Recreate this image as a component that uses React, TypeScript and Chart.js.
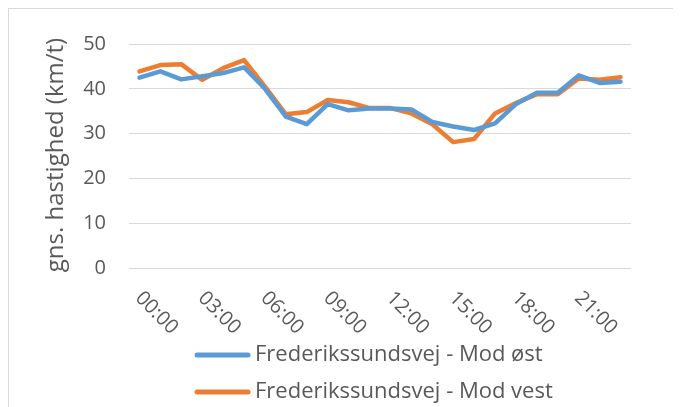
import React, { useEffect, useRef } from "react";
import { Chart, registerables } from "chart.js";

Chart.register(...registerables);

const hours = [
  "00:00", "01:00", "02:00", "03:00", "04:00", "05:00", "06:00", "07:00",
  "08:00", "09:00", "10:00", "11:00", "12:00", "13:00", "14:00", "15:00",
  "16:00", "17:00", "18:00", "19:00", "20:00", "21:00", "22:00", "23:00",
];
const eastSpeeds = [42.5, 43.9, 42.1, 42.8, 43.5, 44.8, 40.0, 33.8, 32.1, 36.6, 35.2, 35.6, 35.6, 35.4, 32.6, 31.6, 30.8, 32.3, 36.6, 39.1, 39.1, 43.0, 41.3, 41.6];
const westSpeeds = [43.9, 45.3, 45.5, 42.0, 44.6, 46.4, 40.5, 34.3, 34.8, 37.5, 37.0, 35.7, 35.7, 34.5, 32.1, 28.1, 28.8, 34.5, 36.8, 38.8, 38.8, 42.3, 42.0, 42.6];
const seriesNames = ["Frederikssundsvej - Mod øst", "Frederikssundsvej - Mod vest"];
const seriesColors = ["#5B9BD5", "#ED7D31"];
const yTitle = "gns. hastighed (km/t)";
const yMin = 0;
const yMax = 50;
const yStep = 10;
const labelEvery = 3;

const TEXT = "#595959";
const FONT = '"Open Sans", sans-serif';
const TICK_SIZE = 20;
const LEGEND_SIZE = 22;
const TITLE_SIZE = 24;

const overlay = {
  id: "overlay",
  afterDraw(chart: any) {
    const { ctx, chartArea } = chart;
    const xs = chart.scales.x;
    ctx.save();
    ctx.fillStyle = TEXT;
    ctx.font = `${TICK_SIZE}px ${FONT}`;
    ctx.textBaseline = "middle";
    ctx.textAlign = "left";
    hours.forEach((h, i) => {
      if (i % labelEvery !== 0) return;
      const px = xs.getPixelForTick(i);
      ctx.save();
      ctx.translate(px - 1, chartArea.bottom + 27);
      ctx.rotate(Math.PI / 4);
      ctx.fillText(h, 0, 0);
      ctx.restore();
    });
    // y axis title
    ctx.font = `${TITLE_SIZE}px ${FONT}`;
    ctx.save();
    ctx.translate(47, 146);
    ctx.rotate(-Math.PI / 2);
    ctx.textAlign = "center";
    ctx.fillText(yTitle, 0, 0);
    ctx.restore();
    // legend
    ctx.font = `${LEGEND_SIZE}px ${FONT}`;
    chart.data.datasets.forEach((ds: any, i: number) => {
      const y = chartArea.bottom + 87 + i * 37;
      ctx.strokeStyle = ds.borderColor;
      ctx.lineWidth = 5;
      ctx.lineCap = "round";
      ctx.beginPath();
      ctx.moveTo(188, y);
      ctx.lineTo(239, y);
      ctx.stroke();
      ctx.fillStyle = TEXT;
      ctx.textAlign = "left";
      ctx.fillText(ds.label, 246, y);
    });
    ctx.restore();
  },
};

export default function App() {
  const ref = useRef<HTMLCanvasElement | null>(null);
  useEffect(() => {
    document.body.style.overflow = "hidden";
    document.documentElement.style.overflow = "hidden";
    const canvas = ref.current;
    if (!canvas) return;
    const chart = new Chart(canvas, {
      type: "line",
      data: {
        labels: hours,
        datasets: [
          {
            label: seriesNames[0],
            data: eastSpeeds,
            borderColor: seriesColors[0],
            backgroundColor: seriesColors[0],
            borderWidth: 4.5,
            pointRadius: 0,
            tension: 0,
            borderJoinStyle: "round",
            borderCapStyle: "round",
          },
          {
            label: seriesNames[1],
            data: westSpeeds,
            borderColor: seriesColors[1],
            backgroundColor: seriesColors[1],
            borderWidth: 4.5,
            pointRadius: 0,
            tension: 0,
            borderJoinStyle: "round",
            borderCapStyle: "round",
          },
        ],
      },
      options: {
        responsive: false,
        animation: false,
        layout: { padding: { left: 0, right: 50, top: 24, bottom: 0 } },
        plugins: {
          legend: { display: false },
          tooltip: { enabled: false },
        },
        scales: {
          x: {
            offset: true,
            grid: { display: false },
            border: { display: false },
            ticks: { display: false },
            afterFit: (scale: any) => {
              scale.height = 139;
            },
          },
          y: {
            min: yMin,
            max: yMax,
            grid: { color: "#D9D9D9", lineWidth: 1, drawTicks: false },
            border: { display: false },
            ticks: {
              stepSize: yStep,
              color: TEXT,
              padding: 23,
              font: { family: FONT, size: TICK_SIZE },
            },
            afterFit: (scale: any) => {
              scale.width = 120;
            },
          },
        },
      },
      plugins: [overlay],
    });
    return () => chart.destroy();
  }, []);
  return (
    <div
      style={{
        width: 672,
        height: 398,
        borderTop: "1px solid #D9D9D9",
        borderLeft: "1px solid #D9D9D9",
        background: "#fff",
      }}
    >
      <canvas ref={ref} width={672} height={398} style={{ display: "block" }} />
    </div>
  );
}
